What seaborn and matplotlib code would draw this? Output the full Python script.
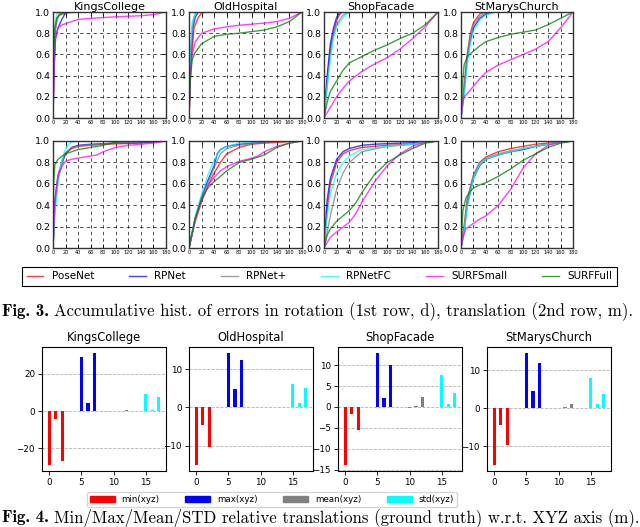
import matplotlib
matplotlib.use("Agg")
import matplotlib.pyplot as plt
import seaborn as sns
from matplotlib.lines import Line2D
from matplotlib.patches import Patch
from matplotlib.ticker import MultipleLocator

W, H = 640, 527

scenes = ["KingsCollege", "OldHospital", "ShopFacade", "StMarysChurch"]
methods = ["PoseNet", "RPNet", "RPNet+", "RPNetFC", "SURFSmall", "SURFFull"]
method_colors = ["red", "blue", "gray", "cyan", "magenta", "green"]

# cumulative error curves, breakpoints (error, fraction)
# 1st row: rotation (deg)
rot_kings = {
    "PoseNet": ([0, 1, 3, 6, 10, 20], [0, .45, .8, .93, .98, 1]),
    "RPNet": ([0, 2, 4, 8, 14, 20, 25], [0, .5, .75, .85, .93, .99, 1]),
    "RPNet+": ([0, 1, 3, 6, 10, 18], [0, .45, .78, .92, .97, 1]),
    "RPNetFC": ([0, 1, 2, 4, 6, 10], [0, .5, .75, .92, .98, 1]),
    "SURFSmall": ([0, 2, 4, 8, 15, 20, 40, 60, 100, 140, 160, 180],
                  [0, .5, .75, .85, .88, .89, .93, .94, .955, .965, .975, 1]),
    "SURFFull": ([0, 1, 3, 6, 10, 20, 40], [0, .6, .85, .94, .97, .99, 1]),
}
rot_old = {
    "PoseNet": ([0, 3, 8, 15, 20, 30], [0, .5, .85, .95, .99, 1]),
    "RPNet": ([0, 3, 6, 10, 15], [0, .6, .85, .95, 1]),
    "RPNet+": ([0, 2, 5, 8, 12], [0, .55, .85, .95, 1]),
    "RPNetFC": ([0, 2, 5, 10], [0, .6, .9, 1]),
    "SURFSmall": ([0, 2, 5, 10, 20, 40, 60, 80, 100, 120, 140, 160, 180],
                  [0, .4, .6, .72, .8, .84, .86, .875, .885, .895, .91, .94, 1]),
    "SURFFull": ([0, 2, 5, 10, 20, 40, 60, 80, 100, 120, 140, 160, 180],
                 [0, .35, .55, .62, .7, .77, .79, .8, .815, .83, .86, .91, 1]),
}
rot_shop = {
    "PoseNet": ([0, 5, 10, 15, 20, 25, 30], [0, .35, .65, .8, .92, .98, 1]),
    "RPNet": ([0, 5, 10, 15, 20, 25], [0, .4, .7, .85, .95, 1]),
    "RPNet+": ([0, 5, 10, 15, 20, 30, 40], [0, .3, .6, .78, .88, .97, 1]),
    "RPNetFC": ([0, 5, 10, 15, 20, 30, 40], [0, .3, .55, .75, .86, .95, 1]),
    "SURFSmall": ([0, 5, 10, 20, 30, 40, 60, 80, 100, 120, 140, 160, 180],
                  [0, .05, .1, .2, .28, .35, .44, .51, .57, .65, .75, .86, 1]),
    "SURFFull": ([0, 5, 10, 20, 30, 40, 60, 80, 100, 120, 140, 160, 180],
                 [0, .15, .25, .35, .45, .52, .58, .64, .69, .75, .8, .88, 1]),
}
rot_stmarys = {
    "PoseNet": ([0, 5, 10, 15, 20, 30, 40], [0, .3, .6, .8, .9, .98, 1]),
    "RPNet": ([0, 5, 10, 15, 20, 30, 40, 55], [0, .25, .55, .73, .85, .94, .98, 1]),
    "RPNet+": ([0, 5, 10, 15, 20, 30, 40, 50], [0, .3, .58, .77, .88, .96, .99, 1]),
    "RPNetFC": ([0, 5, 10, 15, 20, 30, 40, 55], [0, .2, .5, .7, .82, .92, .97, 1]),
    "SURFSmall": ([0, 3, 5, 10, 20, 30, 40, 60, 80, 100, 120, 140, 160, 180],
                  [0, .15, .2, .23, .3, .37, .43, .5, .55, .6, .65, .72, .85, 1]),
    "SURFFull": ([0, 2, 5, 10, 20, 30, 40, 60, 80, 100, 120, 140, 160, 180],
                 [0, .3, .5, .58, .63, .68, .72, .76, .79, .81, .83, .88, .94, 1]),
}
# 2nd row: translation (m)
tr_kings = {
    "PoseNet": ([0, 3, 8, 15, 20, 30, 40, 80, 140, 175],
                [0, .45, .68, .82, .89, .93, .95, .97, .98, 1]),
    "RPNet": ([0, 3, 8, 15, 20, 30, 40, 60, 100, 160, 175],
              [0, .4, .65, .8, .88, .94, .96, .97, .98, .99, 1]),
    "RPNet+": ([0, 3, 8, 15, 20, 30, 50, 100, 175],
               [0, .4, .67, .82, .89, .94, .96, .98, 1]),
    "RPNetFC": ([0, 3, 8, 12, 18, 25, 30, 40], [0, .3, .6, .75, .9, .97, .99, 1]),
    "SURFSmall": ([0, 3, 8, 15, 20, 30, 50, 70, 80, 100, 120, 140, 160, 180],
                  [0, .45, .68, .77, .81, .83, .85, .87, .9, .94, .96, .97, .98, 1]),
    "SURFFull": ([0, 1, 3, 8, 15, 20, 30, 40, 60, 80, 100, 120],
                 [0, .6, .78, .83, .86, .88, .9, .92, .94, .96, .99, 1]),
}
tr_old = {
    "PoseNet": ([0, 10, 20, 30, 40, 50, 60, 80, 100, 120, 150, 170],
                [0, .25, .43, .58, .7, .8, .88, .94, .97, .98, .99, 1]),
    "RPNet": ([0, 10, 20, 30, 40, 45, 50, 60, 80, 100, 120, 140],
              [0, .28, .48, .63, .77, .88, .92, .95, .97, .98, .99, 1]),
    "RPNet+": ([0, 10, 20, 30, 40, 50, 60, 80, 120, 150],
               [0, .28, .47, .6, .75, .88, .93, .96, .99, 1]),
    "RPNetFC": ([0, 10, 20, 30, 40, 50, 60, 80, 100, 120],
                [0, .3, .5, .68, .82, .92, .95, .98, .99, 1]),
    "SURFSmall": ([0, 10, 20, 30, 40, 50, 60, 80, 100, 110, 120, 140, 160, 180],
                  [0, .27, .45, .58, .66, .72, .76, .81, .84, .86, .9, .95, .98, 1]),
    "SURFFull": ([0, 10, 20, 30, 40, 50, 60, 80, 100, 120, 140, 160, 180],
                 [0, .28, .46, .56, .62, .67, .72, .8, .83, .87, .94, .98, 1]),
}
tr_shop = {
    "PoseNet": ([0, 5, 10, 20, 30, 40, 60, 100, 140, 160, 180],
                [0, .35, .6, .8, .88, .91, .94, .96, .97, .99, 1]),
    "RPNet": ([0, 5, 10, 20, 30, 40, 60, 80, 120, 160, 180],
              [0, .45, .65, .83, .9, .93, .96, .97, .98, .99, 1]),
    "RPNet+": ([0, 5, 10, 20, 30, 40, 60, 100, 140, 160, 180],
               [0, .15, .3, .55, .7, .8, .9, .95, .97, .99, 1]),
    "RPNetFC": ([0, 5, 10, 20, 30, 40, 60, 100, 140, 160, 180],
                [0, .3, .5, .7, .8, .86, .92, .95, .97, .99, 1]),
    "SURFSmall": ([0, 5, 10, 20, 40, 50, 60, 80, 100, 120, 140, 160, 180],
                  [0, .05, .1, .15, .24, .32, .43, .62, .77, .88, .95, .99, 1]),
    "SURFFull": ([0, 5, 10, 20, 40, 50, 60, 80, 100, 120, 140, 160, 180],
                 [0, .12, .18, .25, .35, .42, .52, .69, .8, .87, .93, .98, 1]),
}
tr_stmarys = {
    "PoseNet": ([0, 5, 10, 20, 30, 40, 60, 80, 100, 120, 140, 160, 180],
                [0, .2, .45, .68, .8, .85, .9, .93, .95, .97, .98, .99, 1]),
    "RPNet": ([0, 5, 10, 20, 30, 40, 60, 80, 100, 120, 140, 160, 180],
              [0, .15, .4, .65, .77, .83, .87, .9, .92, .95, .97, .99, 1]),
    "RPNet+": ([0, 5, 10, 20, 30, 40, 60, 80, 100, 120, 140, 160, 180],
               [0, .2, .45, .68, .8, .84, .88, .91, .93, .95, .97, .99, 1]),
    "RPNetFC": ([0, 5, 10, 20, 30, 40, 60, 80, 100, 120, 140, 160, 180],
                [0, .15, .38, .65, .78, .83, .87, .9, .93, .95, .97, .99, 1]),
    "SURFSmall": ([0, 3, 8, 15, 20, 30, 40, 60, 80, 100, 120, 140, 160, 180],
                  [0, .1, .18, .21, .23, .27, .3, .4, .55, .75, .88, .96, .99, 1]),
    "SURFFull": ([0, 3, 8, 15, 20, 30, 40, 60, 80, 100, 120, 140, 160, 180],
                 [0, .35, .47, .53, .56, .59, .61, .67, .74, .82, .88, .94, .98, 1]),
}
rot_curves = [rot_kings, rot_old, rot_shop, rot_stmarys]
tr_curves = [tr_kings, tr_old, tr_shop, tr_stmarys]

# Fig. 4 bars: x, y, z for each statistic
stats = ["min(xyz)", "max(xyz)", "mean(xyz)", "std(xyz)"]
stat_colors = ["red", "blue", "gray", "cyan"]
stat_pos = [[0, 1, 2], [5, 6, 7], [10, 11, 12], [15, 16, 17]]
kings_bars = [[-29.1, -4.0, -26.5], [29.2, 4.1, 31.3], [0.05, 0.05, 0.7], [9.4, 0.8, 7.7]]
old_bars = [[-15.2, -4.7, -10.4], [14.4, 4.8, 12.5], [0.15, 0.05, 0.15], [6.1, 1.3, 5.0]]
shop_bars = [[-14.0, -1.6, -5.6], [13.0, 2.1, 10.0], [-0.3, 0.2, 2.4], [7.6, 0.65, 3.3]]
stmarys_bars = [[-15.0, -4.5, -9.7], [14.6, 4.5, 12.0], [0.05, 0.2, 1.05], [7.9, 1.1, 3.7]]
bar_data = [kings_bars, old_bars, shop_bars, stmarys_bars]
bar_ystep = [20, 10, 5, 10]

fig = plt.figure(figsize=(W / 100, H / 100), dpi=100)


def px_axes(l, t, r, b):
    return fig.add_axes([l / W, 1 - b / H, (r - l) / W, (b - t) / H])


cols_top = [(53, 166), (189, 302), (324, 438), (461, 573)]
rows_top = [(12, 118), (141, 248)]

for ri, (t, b) in enumerate(rows_top):
    curves = rot_curves if ri == 0 else tr_curves
    for ci, (l, r) in enumerate(cols_top):
        ax = px_axes(l, t, r, b)
        for m, c in zip(methods, method_colors):
            xs, ys = curves[ci][m]
            sns.lineplot(x=xs, y=ys, ax=ax, color=c, lw=1.0, alpha=0.75)
        ax.set_xlim(0, 180)
        ax.set_ylim(0, 1)
        ax.set_xticks(range(0, 181, 20))
        ax.set_yticks([0, .2, .4, .6, .8, 1.0])
        ax.set_yticklabels(["0.0", "0.2", "0.4", "0.6", "0.8", "1.0"])
        ax.grid(True, ls=(0, (4, 4)), color="black", lw=0.6, alpha=0.8)
        ax.tick_params(direction="in", top=True, right=True, length=3, width=0.6)
        ax.tick_params(axis="x", labelsize=3.6, pad=1.5)
        ax.tick_params(axis="y", labelsize=6.8, pad=2)
        for s in ax.spines.values():
            s.set_linewidth(1.0)
            s.set_color("#333333")
        if ri == 0:
            ax.set_title(scenes[ci], fontsize=8, pad=1.5)

handles = [Line2D([], [], color=c, lw=1.0, alpha=0.75) for c in method_colors]
leg = fig.legend(handles, methods, loc="lower left", ncol=6, mode="expand",
                 bbox_to_anchor=(22 / W, 1 - 286 / H, 595 / W, 20 / H),
                 fontsize=7.5, fancybox=False, edgecolor="black", framealpha=1,
                 handlelength=1.6, borderaxespad=0, borderpad=0.45)
leg.get_frame().set_linewidth(0.8)

cols_bar = [(42, 166), (189, 313), (338, 462), (487, 611)]
for ci, (l, r) in enumerate(cols_bar):
    ax = px_axes(l, 347, r, 471)
    for pos, vals, c in zip(stat_pos, bar_data[ci], stat_colors):
        ax.bar(pos, vals, width=0.5, color=c)
    ax.set_xticks([0, 5, 10, 15])
    ax.yaxis.set_major_locator(MultipleLocator(bar_ystep[ci]))
    ax.set_axisbelow(True)
    ax.yaxis.grid(True, ls="--", color="gray", lw=0.6, alpha=0.6)
    ax.tick_params(labelsize=6.3, length=3, width=0.6, pad=2)
    for s in ax.spines.values():
        s.set_linewidth(0.8)
    ax.set_title(scenes[ci], fontsize=8.3, pad=4)

patches = [Patch(color=c) for c in stat_colors]
fig.legend(patches, stats, loc="lower left", ncol=4, mode="expand",
           bbox_to_anchor=(87 / W, 1 - 507 / H, 370 / W, 18 / H),
           fontsize=6.3, handlelength=2.8, handleheight=0.8, borderaxespad=0,
           borderpad=0.35)

# captions
fig.canvas.draw()
ren = fig.canvas.get_renderer()


def caption(y_px, head, body, size):
    t1 = fig.text(2 / W, 1 - y_px / H, head, family="cmb10", fontsize=size, va="baseline")
    bb = t1.get_window_extent(renderer=ren)
    fig.text(bb.x1 / W + 5 / W, 1 - y_px / H, body, family="cmr10", fontsize=size,
             va="baseline")


caption(316, "Fig. 3.",
        "Accumulative hist. of errors in rotation (1st row, d), translation (2nd row, m).",
        12.1)
caption(522, "Fig. 4.",
        "Min/Max/Mean/STD relative translations (ground truth) w.r.t. XYZ axis (m).",
        12.1)

fig.savefig("out.png", dpi=100)
